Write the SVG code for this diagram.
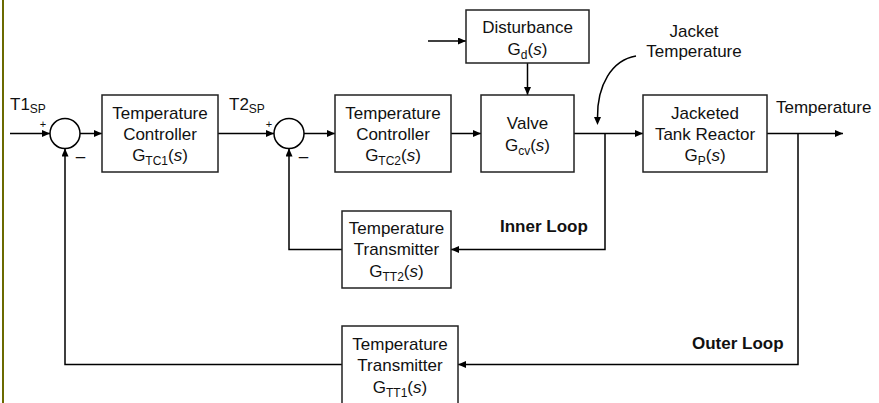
<svg xmlns="http://www.w3.org/2000/svg" width="879" height="403" viewBox="0 0 879 403">
<style>
text{font-family:"Liberation Sans",Arial,sans-serif;font-size:17px;fill:#111}
.box{fill:#fff;stroke:#222;stroke-width:1.5}
.ln{fill:none;stroke:#000;stroke-width:1.5}
.arr{marker-end:url(#ah)}
.sub{font-size:12px}
.b{font-weight:bold}
.sm{font-size:11px}
</style>
<defs>
<marker id="ah" markerUnits="userSpaceOnUse" markerWidth="9" markerHeight="8" refX="8" refY="3.5" orient="auto">
<path d="M0,0 L8,3.5 L0,7 z" fill="#000"/>
</marker>
</defs>
<rect x="2" y="0" width="2" height="403" fill="#6b6a00"/>
<g id="connectors">
<path class="ln arr" d="M10,133.5 H50"/>
<path class="ln arr" d="M80,133.5 H102"/>
<path class="ln arr" d="M218,133.5 H274"/>
<path class="ln arr" d="M304,133.5 H335"/>
<path class="ln arr" d="M451,133.5 H481"/>
<path class="ln arr" d="M428,41 H466"/>
<path class="ln arr" d="M527.5,63 V95"/>
<path class="ln arr" d="M574,133.5 H643"/>
<path class="ln arr" d="M767,133.5 H843"/>
<path class="ln arr" d="M605,133.5 V249.5 H451"/>
<path class="ln arr" d="M342,249.5 H289 V148.5"/>
<path class="ln arr" d="M798,133.5 V364.5 H458"/>
<path class="ln arr" d="M342,364.5 H65 V148.5"/>
<path class="ln" d="M636,56 C612,60 597,85 597.5,118"/>
<path d="M594,117 L597.5,125 L601,117 z" fill="#000"/>
</g>
<g id="sum1">
<circle cx="65" cy="133.5" r="15" fill="#fff" stroke="#000" stroke-width="1.5"/>
<text class="sm" x="43" y="127.5" text-anchor="middle">+</text>
<text x="80.5" y="161.5" text-anchor="middle">–</text>
</g>
<g id="sum2">
<circle cx="289" cy="133.5" r="15" fill="#fff" stroke="#000" stroke-width="1.5"/>
<text class="sm" x="269" y="127.5" text-anchor="middle">+</text>
<text x="303.5" y="161.5" text-anchor="middle">–</text>
</g>
<g id="label-t1sp"><text x="10" y="110">T1<tspan class="sub" dy="3">SP</tspan></text></g>
<g id="label-t2sp"><text x="229" y="110">T2<tspan class="sub" dy="3">SP</tspan></text></g>
<g id="tc1">
<rect class="box" x="102" y="95" width="116" height="77"/>
<text x="160" y="119" text-anchor="middle">Temperature</text>
<text x="160" y="140" text-anchor="middle">Controller</text>
<text x="160" y="161" text-anchor="middle">G<tspan class="sub" dy="4">TC1</tspan><tspan dy="-4">(</tspan><tspan font-style="italic">s</tspan>)</text>
</g>
<g id="tc2">
<rect class="box" x="335" y="95" width="116" height="77"/>
<text x="393" y="119" text-anchor="middle">Temperature</text>
<text x="393" y="140" text-anchor="middle">Controller</text>
<text x="393" y="161" text-anchor="middle">G<tspan class="sub" dy="4">TC2</tspan><tspan dy="-4">(</tspan><tspan font-style="italic">s</tspan>)</text>
</g>
<g id="disturbance">
<rect class="box" x="466" y="10" width="123" height="53"/>
<text x="527.5" y="33" text-anchor="middle" font-size="17.5">Disturbance</text>
<text x="527.5" y="55" text-anchor="middle">G<tspan class="sub" dy="4">d</tspan><tspan dy="-4">(</tspan><tspan font-style="italic">s</tspan>)</text>
</g>
<g id="valve">
<rect class="box" x="481" y="95" width="93" height="77"/>
<text x="527.5" y="129" text-anchor="middle">Valve</text>
<text x="527.5" y="151" text-anchor="middle">G<tspan class="sub" dy="4">cv</tspan><tspan dy="-4">(</tspan><tspan font-style="italic">s</tspan>)</text>
</g>
<g id="reactor">
<rect class="box" x="643" y="95" width="124" height="77"/>
<text x="705" y="119" text-anchor="middle">Jacketed</text>
<text x="705" y="140" text-anchor="middle" font-size="17.5">Tank Reactor</text>
<text x="705" y="161" text-anchor="middle">G<tspan class="sub" dy="4">P</tspan><tspan dy="-4">(</tspan><tspan font-style="italic">s</tspan>)</text>
</g>
<g id="tt2">
<rect class="box" x="342" y="211" width="109" height="77"/>
<text x="396.5" y="234" text-anchor="middle">Temperature</text>
<text x="396.5" y="255" text-anchor="middle">Transmitter</text>
<text x="396.5" y="277" text-anchor="middle">G<tspan class="sub" dy="4">TT2</tspan><tspan dy="-4">(</tspan><tspan font-style="italic">s</tspan>)</text>
</g>
<g id="tt1">
<rect class="box" x="342" y="326" width="116" height="80"/>
<text x="400" y="350" text-anchor="middle">Temperature</text>
<text x="400" y="371" text-anchor="middle">Transmitter</text>
<text x="400" y="393" text-anchor="middle">G<tspan class="sub" dy="4">TT1</tspan><tspan dy="-4">(</tspan><tspan font-style="italic">s</tspan>)</text>
</g>
<g id="label-jacket">
<text x="694" y="37" text-anchor="middle">Jacket</text>
<text x="694" y="57" text-anchor="middle">Temperature</text>
</g>
<g id="label-temperature"><text x="776" y="113">Temperature</text></g>
<g id="label-inner"><text class="b" x="500" y="232">Inner Loop</text></g>
<g id="label-outer"><text class="b" x="692" y="349">Outer Loop</text></g>
</svg>
